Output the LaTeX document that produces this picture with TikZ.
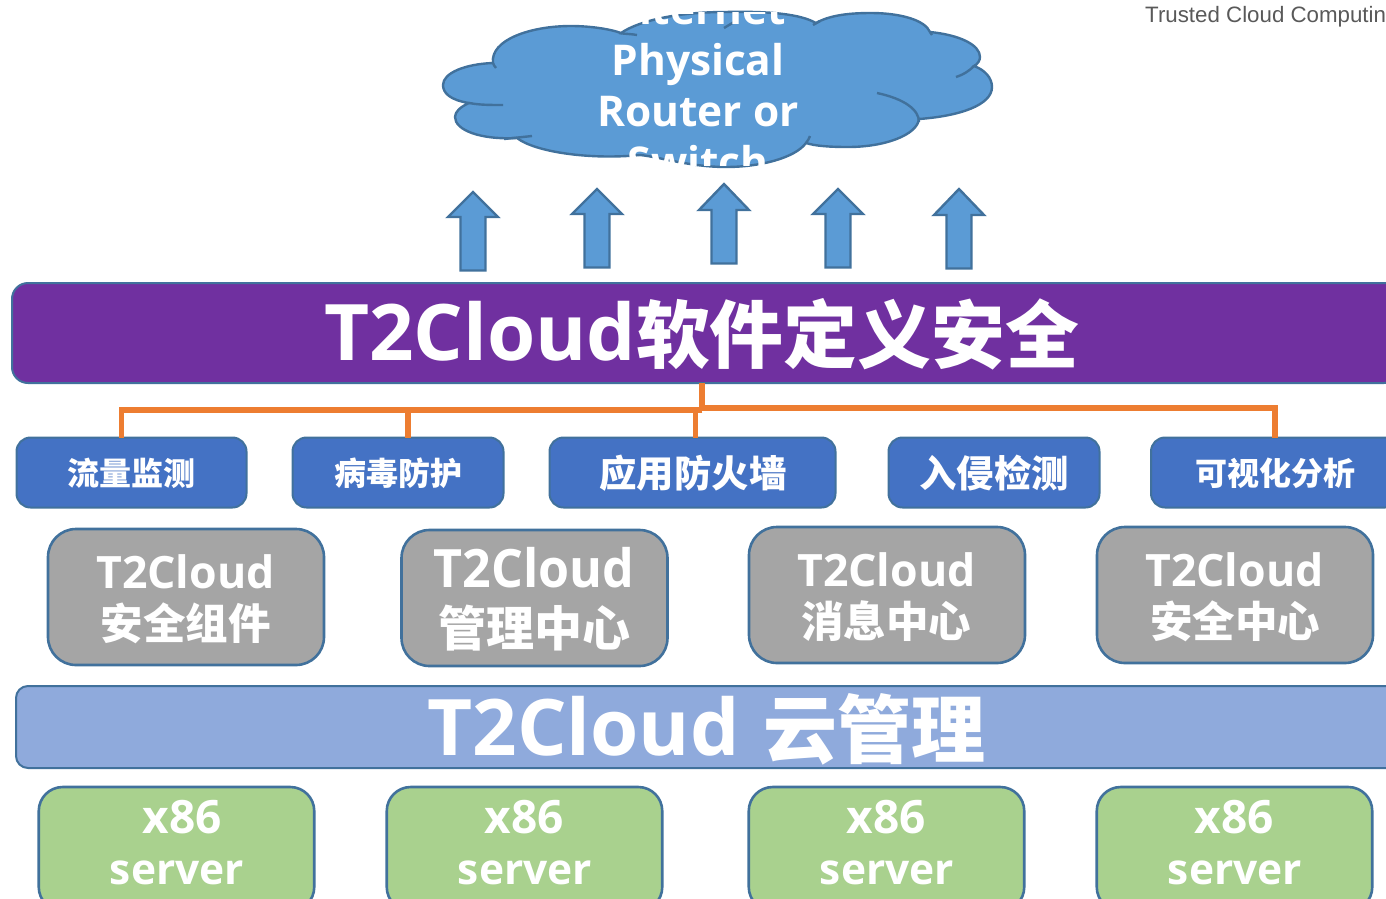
\documentclass[tikz,border=0pt]{standalone}
\usepackage{fontspec}
\setmainfont{Open Sans}
\newfontfamily\cjk{Noto Sans CJK SC}
\newfontfamily\arialish{Liberation Sans}
\definecolor{edge}{HTML}{41719C}
\definecolor{cloudblue}{HTML}{5B9BD5}
\definecolor{purplebar}{HTML}{7030A0}
\definecolor{bluebox}{HTML}{4472C4}
\definecolor{graybox}{HTML}{A5A5A5}
\definecolor{lightbar}{HTML}{8FAADC}
\definecolor{greenbox}{HTML}{A9D18E}
\definecolor{link}{HTML}{ED7D31}
\newcommand{\fs}[1]{\fontsize{#1}{#1}\selectfont}
\newcommand{\uparrowshape}[3]{% x, tip y, base of head y
  \draw[arrowshape] (#1,#2) -- (#1+25,#3) -- (#1+12.5,#3) -- (#1+12.5,#3+53.5) -- (#1-12.5,#3+53.5) -- (#1-12.5,#3) -- (#1-25,#3) -- cycle;}
\tikzset{
  x=1pt,y=-1pt,
  arrowshape/.style={draw=edge,fill=cloudblue,line width=2.4pt,line join=miter},
  base box/.style={draw=edge,inner sep=0pt,outer sep=0pt,rectangle},
  bar/.style={base box,line width=2pt,rounded corners=16pt},
  funcbox/.style={base box,fill=bluebox,line width=2pt,rounded corners=14pt,minimum height=70pt},
  compbox/.style={base box,fill=graybox,line width=2.6pt,rounded corners=28pt,minimum width=276pt,minimum height=136pt},
  srvbox/.style={base box,fill=greenbox,line width=2.6pt,rounded corners=24pt,minimum width=275.5pt,minimum height=124pt},
  label/.style={text=white,font=\bfseries,inner sep=0pt,anchor=base},
  hook/.style={draw=edge,line width=2.4pt},
  orangeline/.style={draw=link,line width=5.5pt},
}
\begin{document}
\begin{tikzpicture}
\useasboundingbox (0,0) rectangle (1386,898);
\clip (0,0) rectangle (1386,898);
% cloud
\path[draw=edge,fill=cloudblue,line width=2.4pt]
  (493,63) .. controls (490,40) and (530,26) .. (571,26)
  .. controls (590,26) and (610,29) .. (621,33)
  .. controls (640,20) and (680,12) .. (725,12)
  .. controls (770,11) and (800,14) .. (816,23)
  .. controls (830,15) and (850,13) .. (871,13)
  .. controls (900,13) and (925,20) .. (930,32)
  .. controls (960,35) and (980,45) .. (980,57)
  .. controls (980,60) and (978,64) .. (974,66)
  .. controls (985,70) and (992,78) .. (992,87)
  .. controls (992,105) and (960,116) .. (919,119)
  .. controls (917,135) and (885,147) .. (848,147)
  .. controls (830,147) and (815,146) .. (806,143)
  .. controls (795,158) and (760,167) .. (726,167)
  .. controls (690,167) and (660,157) .. (640,155)
  .. controls (590,160) and (535,152) .. (517,138)
  .. controls (480,140) and (455,130) .. (455,117)
  .. controls (455,112) and (460,107) .. (469,103)
  .. controls (450,100) and (443,93) .. (443,85)
  .. controls (443,73) and (465,64) .. (493,63) -- cycle;
\draw[hook] (493,63) .. controls (493,65) and (495,66) .. (496,68);
\draw[hook] (619,33) .. controls (625,34) and (632,34) .. (637,35);
\draw[hook] (724,28) -- (734,22);
\draw[hook] (813,25) -- (820,21);
\draw[hook] (930,32) -- (932,35);
\draw[hook] (956,77) .. controls (965,74) and (970,70) .. (974,66);
\draw[hook] (877,93) .. controls (905,99) and (919,110) .. (919,122);
\draw[hook] (810,136) .. controls (809,138) and (808,141) .. (806,143);
\draw[hook] (504,139) -- (532,136);
\draw[hook] (469,103) .. controls (480,105) and (490,105) .. (503,105);
\begin{scope}
\clip (560,12) rectangle (840,165);
\node[label] (c1) at (698,24) {\fs{42.4}Internet};
\node[label] (c2) at (698,75) {\fs{42.4}Physical};
\node[label] (c3) at (698,126) {\fs{42.4}Router or};
\node[label] (c4) at (698,177) {\fs{42.4}Switch};
\end{scope}
% arrows
\uparrowshape{473}{192}{217}
\uparrowshape{597}{189}{214}
\uparrowshape{724}{184}{210}
\uparrowshape{838}{189}{214}
\uparrowshape{959}{189}{215}
% bars
\node[bar,fill=purplebar,minimum width=1388pt,minimum height=100pt] (secbar) at (706,333) {};
\node[label] (sectext) at (701.5,360) {\fs{78}T2Cloud{\cjk\fs{73.8}\raisebox{-2pt}{软件定义安全}}};
% functional boxes
\node[funcbox,minimum width=230pt] (f1) at (131.5,472.5) {};
\node[funcbox,minimum width=211pt] (f2) at (398,472.5) {};
\node[funcbox,minimum width=286pt] (f3) at (692.5,472.5) {};
\node[funcbox,minimum width=211pt] (f4) at (994,472.5) {};
\node[funcbox,minimum width=248pt] (f5) at (1275,472.5) {};
\node[label] at (131,485) {\cjk\fs{32}流量监测};
\node[label] at (398,485) {\cjk\fs{32}病毒防护};
\node[label] at (693,487) {\cjk\fs{37.4}应用防火墙};
\node[label] at (994,487) {\cjk\fs{37.4}入侵检测};
\node[label] at (1275,485) {\cjk\fs{32}可视化分析};
% connectors
\coordinate (trunk) at (702,383);
\coordinate (lefty) at (702,410);
\draw[orangeline] (trunk) -- ++(0,25) -| (f5.north);
\draw[orangeline] (lefty) -| ([xshift=-10pt]f1.north);
\draw[orangeline] (lefty) -| ([xshift=10pt]f2.north);
\draw[orangeline] (lefty) -| ([xshift=3pt]f3.north);
% component boxes
\node[compbox] (g1) at (186,597) {};
\node[compbox,minimum width=266pt] (g2) at (534.5,598) {};
\node[compbox] (g3) at (887,595) {};
\node[compbox] (g4) at (1235,595) {};
\node[label] at (185.5,588) {\fs{44.6}T2Cloud};
\node[label] at (185.5,639) {\cjk\fs{42.5}安全组件};
\node[label] at (534,587) {\scalebox{1.09}[1.15]{\fs{46}T2Cloud}};
\node[label] at (534.5,646) {\cjk\fs{48}管理中心};
\node[label] at (886.5,586) {\fs{44.6}T2Cloud};
\node[label] at (886,637) {\cjk\fs{42.5}消息中心};
\node[label] at (1234.5,586) {\fs{44.6}T2Cloud};
\node[label] at (1235,637) {\cjk\fs{42.5}安全中心};
% cloud management bar
\node[bar,fill=lightbar,minimum width=1386pt,minimum height=82pt,rounded corners=12pt] (mgr) at (709,727) {};
\node[label] (mgrtext) at (706.5,755) {\fs{78}T2Cloud\hspace{4pt} {\cjk\fs{74}\raisebox{-2pt}{云管理}}};
% servers
\node[srvbox] (s1) at (176.5,849) {};
\node[srvbox] (s2) at (524.5,849) {};
\node[srvbox] (s3) at (886.5,849) {};
\node[srvbox] (s4) at (1234.5,849) {};
\foreach \n/\a/\b in {1/182/177,2/524/525,3/886/887,4/1234/1235}{
  \node[label] (sx\n) at (\a,833) {\fs{46}x86};
  \node[label] (sv\n) at (\b,884) {\fs{42.5}server};
}
% note
\node[anchor=base west,inner sep=0pt,text=black!65,font=\arialish\fs{22.3}] (note) at (1145,22) {Trusted Cloud Computing};
\end{tikzpicture}
\end{document}
